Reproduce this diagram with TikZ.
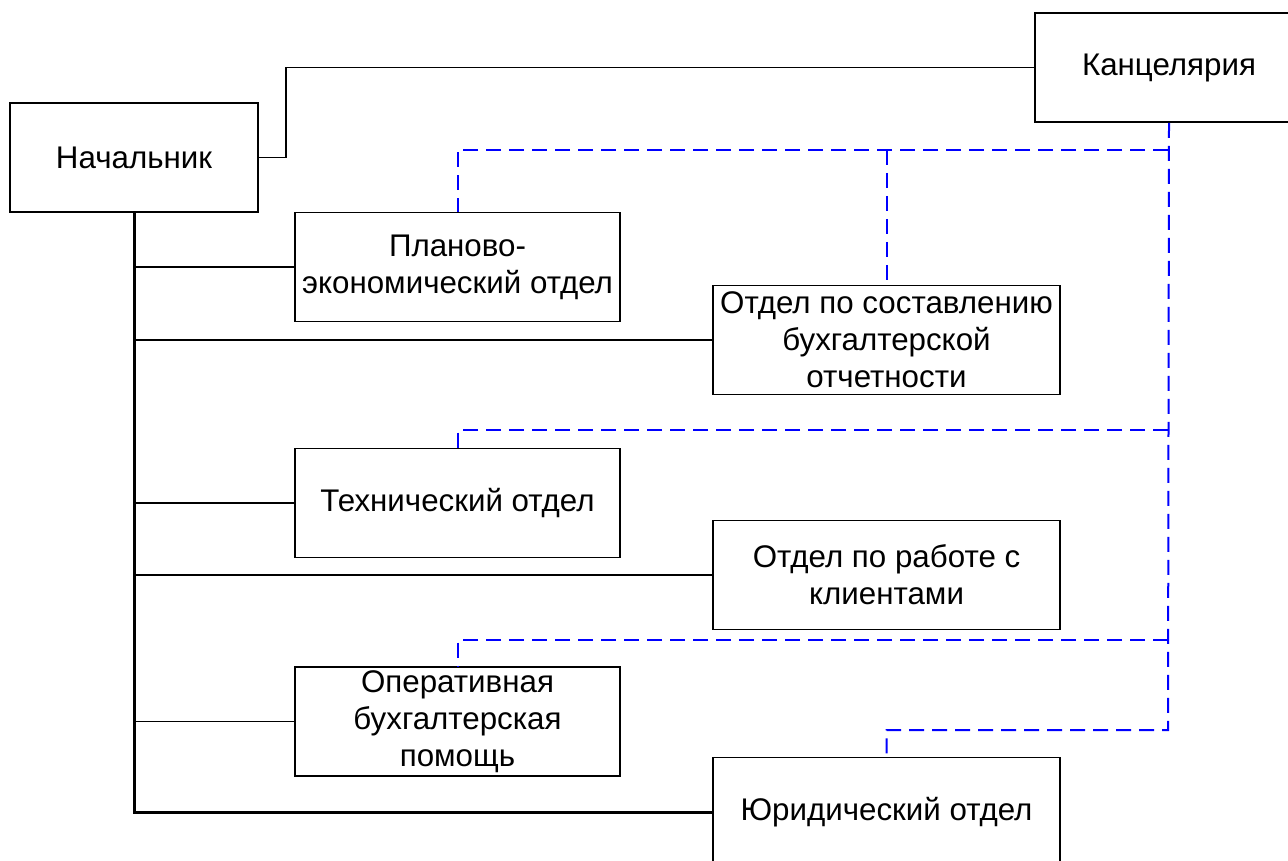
\documentclass[tikz,border=0pt]{standalone}
\usepackage{fontspec}
\setmainfont{Liberation Sans}
\begin{document}
\begin{tikzpicture}[x=1pt,y=-1pt,
		box/.style={draw,line width=1.8pt,inner sep=0pt,align=center,
			minimum width=#1,minimum height=109pt,
			font=\fontsize{31.3}{37}\selectfont},
		box/.default=325pt,
		link/.style={line width=1.8pt},
		trunk/.style={line width=3pt},
		dashlink/.style={draw=blue,line width=2pt,dash pattern=on 15pt off 8pt}]
	\useasboundingbox (0,0) rectangle (1288,861);
	% boxes
	\node[box=248pt] (nach) at (134,157.5) {Начальник};
	\node[box=268pt] (kanc) at (1169,67.5) {Канцелярия};
	\node[box] (plan) at (457.5,267) {Планово-\\экономический отдел};
	\node[box=347pt] (otch) at (886.5,340) {Отдел по составлению\\бухгалтерской\\отчетности};
	\node[box] (tech) at (457.5,503) {Технический отдел};
	\node[box=347pt] (klient) at (886.5,575) {Отдел по работе с\\клиентами};
	\node[box] (oper) at (457.5,721.5) {Оперативная\\бухгалтерская\\помощь};
	\node[box=347pt] (yur) at (886.5,812) {Юридический отдел};
	% black lines
	\draw[link] (nach.east) -- ++(27,0) |- (kanc.west);
	\draw[trunk] (nach.south) |- (yur.west);
	\foreach \n in {plan,otch,tech,klient,oper}
		\draw[link] (nach.south |- \n.west) -- (\n.west);
	% blue dashed lines
	\coordinate (b1) at (1168,150);
	\coordinate (b2) at (1168,430);
	\coordinate (b3) at (1168,640);
	\coordinate (b4) at (1168,730);
	\draw[dashlink] (kanc.south) -- (b4) -| (yur.north);
	\draw[dashlink] (b1) -| (plan.north);
	\draw[dashlink] (b1 -| otch.north) -- (otch.north);
	\draw[dashlink] (b2) -| (tech.north);
	\draw[dashlink] (b3) -| (oper.north);
\end{tikzpicture}
\end{document}
